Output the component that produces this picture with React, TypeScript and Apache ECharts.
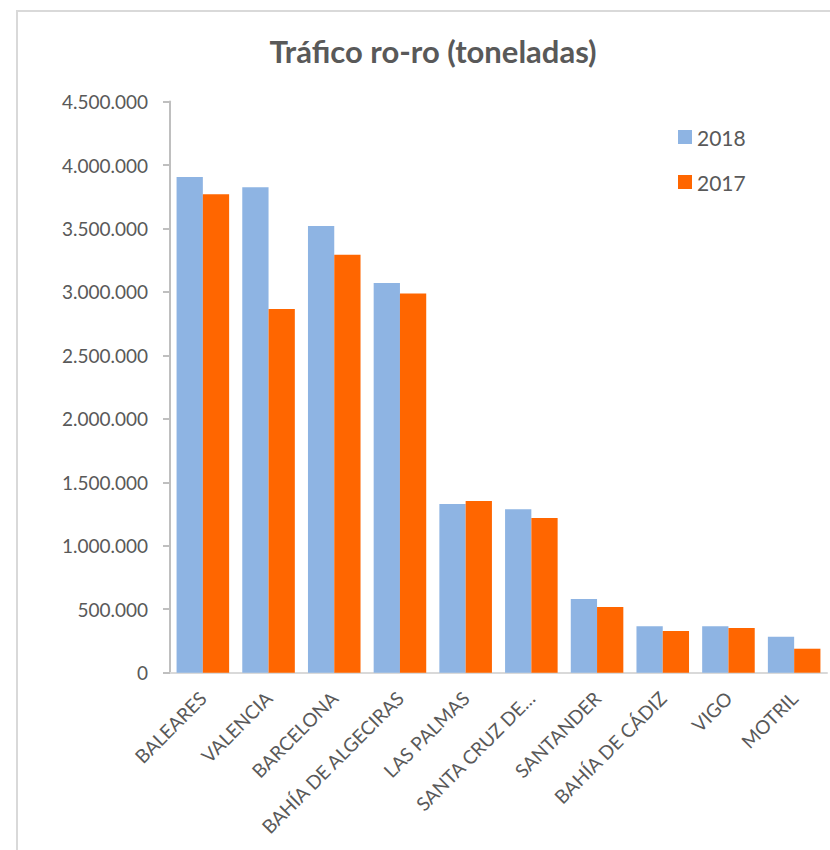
import React, { useEffect, useRef } from "react";
import * as echarts from "echarts";

const categories = [
  "BALEARES",
  "VALENCIA",
  "BARCELONA",
  "BAHÍA DE ALGECIRAS",
  "LAS PALMAS",
  "SANTA CRUZ DE…",
  "SANTANDER",
  "BAHÍA DE CÁDIZ",
  "VIGO",
  "MOTRIL",
];
const values2018 = [3906000, 3825000, 3520000, 3071000, 1329000, 1287000, 581000, 366000, 366000, 284000];
const values2017 = [3770000, 2866000, 3294000, 2987000, 1353000, 1219000, 518000, 329000, 352000, 189000];
const seriesNames = ["2018", "2017"];
const titleText = "Tráfico ro-ro (toneladas)";

const FONT = "Lato, 'Open Sans', sans-serif";
const TEXT = "#595959";

const fmt = (v: number) => String(v).replace(/\B(?=(\d{3})+(?!\d))/g, ".");

export default function App() {
  const ref = useRef<HTMLDivElement>(null);
  useEffect(() => {
    document.body.style.margin = "0";
    const chart = echarts.init(ref.current!, null, { renderer: "svg" });
    chart.setOption({
      animation: false,
      backgroundColor: "#ffffff",
      textStyle: { fontFamily: FONT },
      title: {
        text: titleText,
        left: 428,
        top: 30,
        textAlign: "center",
        textStyle: { fontFamily: FONT, fontSize: 31, fontWeight: "bold", color: TEXT },
      },
      legend: {
        orient: "vertical",
        left: 673,
        top: 120,
        itemWidth: 14,
        itemHeight: 14,
        itemGap: 21,
        icon: "rect",
        data: seriesNames,
        textStyle: { fontFamily: FONT, fontSize: 21, color: TEXT, lineHeight: 24 },
      },
      graphic: [
        {
          type: "rect",
          shape: { x: 17, y: 11, width: 840, height: 860 },
          style: { fill: "none", stroke: "#D9D9D9", lineWidth: 2 },
          silent: true,
        },
      ],
      grid: { left: 170, right: 3, top: 101.6, bottom: 177.3, containLabel: false },
      xAxis: {
        type: "category",
        data: categories,
        axisLine: { show: true, lineStyle: { color: "#D9D9D9", width: 2 } },
        axisTick: { show: false },
        axisLabel: {
          rotate: 45,
          interval: 0,
          margin: 22,
          fontFamily: FONT,
          fontSize: 19,
          color: TEXT,
        },
      },
      yAxis: {
        type: "value",
        min: 0,
        max: 4500000,
        interval: 500000,
        axisLine: { show: true, lineStyle: { color: "#BFBFBF", width: 2 } },
        axisTick: { show: true, length: 7, lineStyle: { color: "#BFBFBF", width: 2 } },
        splitLine: { show: false },
        axisLabel: {
          margin: 22,
          fontFamily: FONT,
          fontSize: 19,
          color: TEXT,
          formatter: (v: number) => fmt(v),
        },
      },
      series: [
        {
          name: seriesNames[0],
          type: "bar",
          data: values2018,
          barGap: "0%",
          barCategoryGap: "20%",
          itemStyle: { color: "#8EB4E3" },
        },
        {
          name: seriesNames[1],
          type: "bar",
          data: values2017,
          barGap: "0%",
          barCategoryGap: "20%",
          itemStyle: { color: "#FF6600" },
        },
      ],
    });
    return () => chart.dispose();
  }, []);
  return <div ref={ref} style={{ width: 830, height: 850 }} />;
}
